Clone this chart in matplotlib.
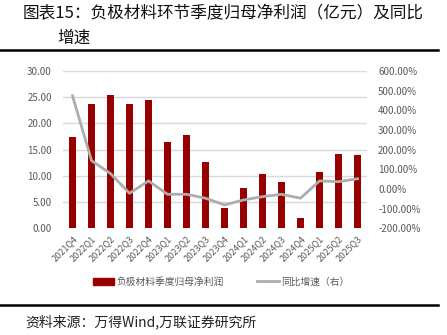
import matplotlib
matplotlib.use("Agg")
import matplotlib.pyplot as plt
from matplotlib.patches import Patch
from matplotlib.lines import Line2D
from matplotlib.ticker import FuncFormatter

plt.rcParams['font.family'] = ['Noto Sans CJK SC', 'DejaVu Sans']

# quarters and values
quarters = ['2021Q4', '2022Q1', '2022Q2', '2022Q3', '2022Q4', '2023Q1', '2023Q2',
            '2023Q3', '2023Q4', '2024Q1', '2024Q2', '2024Q3', '2024Q4', '2025Q1',
            '2025Q2', '2025Q3']
profit = [17.5, 23.7, 25.4, 23.7, 24.4, 16.5, 17.8, 12.6, 3.8, 7.6, 10.3, 8.9,
          2.0, 10.7, 14.1, 13.9]
yoy = [474, 144, 78, -22, 41, -27, -27, -47, -81, -56, -39, -27, -47, 41, 37, 52]

bar_color = '#960000'
line_color = '#ADADAD'
txt_gray = '#595959'

fig = plt.figure(figsize=(4.47, 3.35), dpi=100)
ax = fig.add_axes([0.141, 0.3185, 0.680, 0.4696])
ax2 = ax.twinx()

x = list(range(len(quarters)))
ax.bar(x, profit, width=0.36, color=bar_color, zorder=3)
ax2.plot(x, yoy, color=line_color, lw=2.0, zorder=4)

ax.set_xlim(-0.5, len(quarters) - 0.5)
ax.set_ylim(0, 30)
ax.set_yticks([0, 5, 10, 15, 20, 25, 30])
ax.yaxis.set_major_formatter(FuncFormatter(lambda v, p: '%.2f' % v))
ax2.set_ylim(-200, 600)
ax2.set_yticks(range(-200, 601, 100))
ax2.yaxis.set_major_formatter(FuncFormatter(lambda v, p: '%.2f%%' % v))

ax.grid(axis='y', color='#D9D9D9', lw=1.0, zorder=0)
ax.set_axisbelow(True)
for a in (ax, ax2):
    for s in a.spines.values():
        s.set_visible(False)
    a.tick_params(length=0, labelsize=7, labelcolor=txt_gray)
ax.tick_params(axis='y', pad=8)
ax2.tick_params(axis='y', pad=8)

ax.set_xticks(x)
ax.set_xticklabels(quarters, rotation=45, ha='right', rotation_mode='anchor',
                   fontsize=6.5)
ax.tick_params(axis='x', pad=4)

# legend
handles = [Patch(color=bar_color), Line2D([], [], color=line_color, lw=2)]
fig.legend(handles, ['负极材料季度归母净利润', '同比增速（右）'], ncol=2,
           loc='center', bbox_to_anchor=(0.495, 1 - 281.7 / 335), frameon=False,
           fontsize=7, labelcolor=txt_gray, handlelength=2.2, handleheight=0.8,
           columnspacing=3.4, handletextpad=0.3)

# title and frame lines
fig.text(23 / 447, 1 - 14 / 335, '图表15：负极材料环节季度归母净利润（亿元）及同比',
         fontsize=12, va='center', ha='left', color='#111111')
fig.text(57 / 447, 1 - 38 / 335, '增速', fontsize=12, va='center', ha='left',
         color='#111111')
fig.add_artist(Line2D([0, 438 / 447], [1 - 50 / 335, 1 - 50 / 335], color='black', lw=1.8))
fig.add_artist(Line2D([0, 438 / 447], [1 - 304.5 / 335, 1 - 304.5 / 335], color='black', lw=1.8))
fig.text(25 / 447, 1 - 321.5 / 335, '资料来源：万得Wind,万联证券研究所', fontsize=10,
         va='center', ha='left', style='italic', color='#222222')

fig.savefig('out.png', dpi=100)
